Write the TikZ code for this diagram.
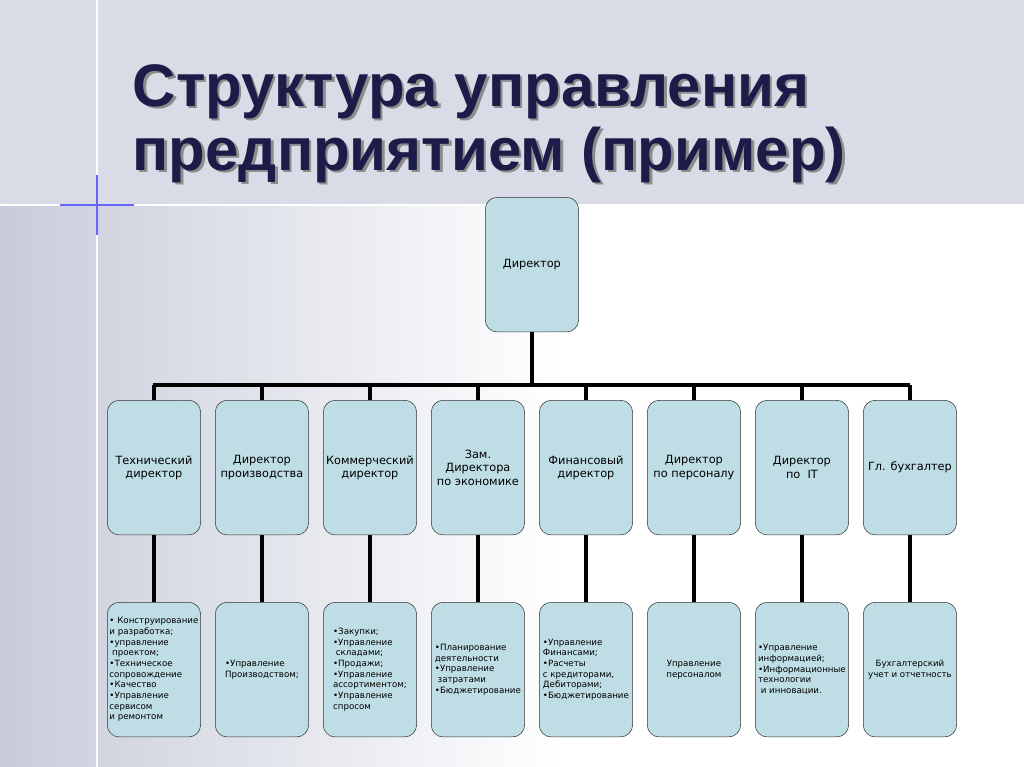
\documentclass[tikz,border=0pt]{standalone}
\usepackage{fontspec}
\setmainfont{DejaVu Sans}
\newfontfamily\titlefont{Liberation Sans}
\usetikzlibrary{positioning}
\definecolor{boxfill}{HTML}{BEDDE4}
\definecolor{bandgray}{HTML}{D9DCE6}
\definecolor{sidegray}{HTML}{C8CCDA}
\definecolor{titleblue}{HTML}{1C1C48}

\begin{document}
\begin{tikzpicture}[
    x=0.75pt, y=-0.75pt, % 1 пиксель
    font=\fontsize{8.5}{10}\selectfont,
    unit/.style={draw=black!80, fill=boxfill, rounded corners=9pt,
        minimum width=70pt, minimum height=101pt, align=center,
        inner sep=1pt, anchor=north west},
    task/.style={unit, font=\fontsize{6.5}{8}\selectfont},
    heading/.style={anchor=base west, font=\titlefont\bfseries\fontsize{45}{45}\selectfont},
    link/.style={line width=3pt}
    ]
    % --- фон ---
    \useasboundingbox (0,0) rectangle (1024,767);
    \fill[white] (0,0) rectangle (1024,767);
    \fill[bandgray] (0,0) rectangle (1024,205);
    \shade[left color=sidegray, right color=white] (0,205) rectangle (560,767);
    \draw[white, line width=1.5pt] (97,0) -- (97,767);
    \draw[white, line width=1.5pt] (0,205) -- (1024,205);
    \draw[blue!60!white, line width=0.8pt] (60,205) -- (134,205) (97,175) -- (97,235);

    % --- заголовок ---
    \foreach \dx/\col in {2.5/black!45, 0/titleblue} {
        \node[heading, text=\col] (head1) at (128+\dx,106+\dx) {Структура управления};
        \node[heading, text=\col] (head2) at (128+\dx,170+\dx) {предприятием (пример)};
    }

    % --- директор ---
    \node[unit] (dir) at (485,197) {Директор};

    % --- первый уровень ---
    \foreach \i/\txt in {0/{Технический\\директор}, 1/{Директор\\производства},
            2/{Коммерческий\\директор}, 3/{Зам.\\Директора\\по экономике},
            4/{Финансовый\\директор}, 5/{Директор\\по персоналу},
            6/{Директор\\по \ IT}, 7/{Гл. бухгалтер}}
        \node[unit] (u\i) at (107+108*\i,400) {\txt};

    % --- второй уровень ---
    \node[task, align=left] (t0) at (107,602) {• Конструирование\\и разработка;\\•управление\\\ проектом;\\•Техническое\\сопровождение\\•Качество\\•Управление\\сервисом\\и ремонтом};
    \node[task, align=left] (t1) at (215,602) {•Управление\\Производством;};
    \node[task, align=left] (t2) at (323,602) {•Закупки;\\•Управление\\\ складами;\\•Продажи;\\•Управление\\ассортиментом;\\•Управление\\спросом};
    \node[task, align=left] (t3) at (431,602) {•Планирование\\деятельности\\•Управление\\\ затратами\\•Бюджетирование};
    \node[task, align=left] (t4) at (539,602) {•Управление\\Финансами;\\•Расчеты\\с кредиторами,\\Дебиторами;\\•Бюджетирование};
    \node[task] (t5) at (647,602) {Управление\\персоналом};
    \node[task, align=left] (t6) at (755,602) {•Управление\\информацией;\\•Информационные\\технологии\\\ и инновации.};
    \node[task] (t7) at (863,602) {Бухгалтерский\\учет и отчетность};

    % --- связи ---
    \coordinate (busL) at (153,385);
    \coordinate (busR) at (910,385);
    \draw[link] (busL) -- (busR);
    \draw[link] (dir.south) -- (dir.south |- busL);
    \foreach \i in {0,...,7} {
        \draw[link] (u\i.north |- busL) -- (u\i.north);
        \draw[link] (u\i.south) -- (u\i.south |- t\i.north);
    }
\end{tikzpicture}
\end{document}
